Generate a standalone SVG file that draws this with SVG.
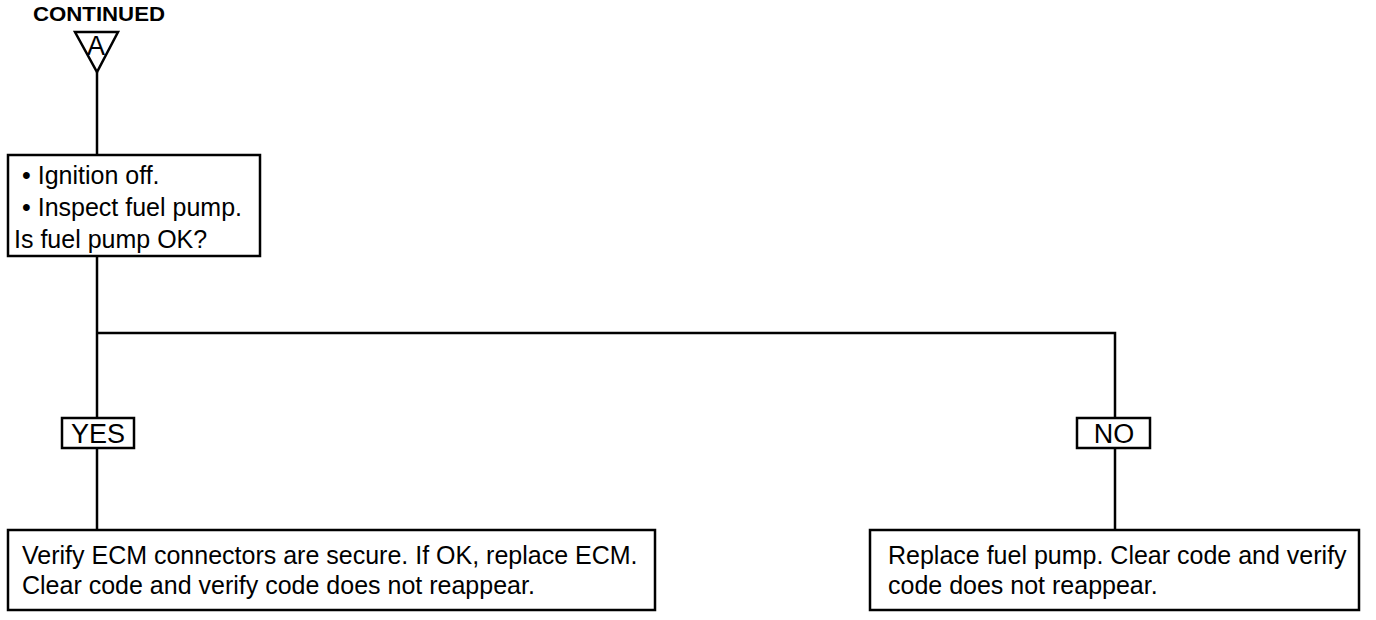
<svg xmlns="http://www.w3.org/2000/svg" width="1376" height="620" viewBox="0 0 1376 620">
<style>
.box{fill:#fff;stroke:#000;stroke-width:2.5}
.ln{fill:none;stroke:#000;stroke-width:2.5}
.t{font-family:"Liberation Sans",Arial,sans-serif;font-size:25px;fill:#000}
.lab{font-family:"Liberation Sans",Arial,sans-serif;font-size:27px;fill:#000}
.b{font-family:"Liberation Sans",Arial,sans-serif;font-size:20px;font-weight:bold;fill:#000}
</style>
<rect width="1376" height="620" fill="#fff"/>
<g id="connectors">
<line class="ln" x1="97" y1="72" x2="97" y2="155"/>
<line class="ln" x1="97" y1="256" x2="97" y2="418"/>
<polyline class="ln" points="97,333 1115,333 1115,418"/>
<line class="ln" x1="97" y1="448" x2="97" y2="530"/>
<line class="ln" x1="1115" y1="448" x2="1115" y2="530"/>
</g>
<g id="continued">
<text class="b" x="33" y="21" textLength="132" lengthAdjust="spacingAndGlyphs">CONTINUED</text>
<polygon class="box" points="75,32 118,32 97,72"/>
<text class="lab" x="96" y="55" text-anchor="middle" font-size="21">A</text>
</g>
<g id="inspect">
<rect class="box" x="8" y="155" width="252" height="101"/>
<text class="t" x="22" y="184">• Ignition off.</text>
<text class="t" x="22" y="216">• Inspect fuel pump.</text>
<text class="t" x="14" y="248">Is fuel pump OK?</text>
</g>
<g id="yes">
<rect class="box" x="62" y="418" width="72" height="30"/>
<text class="lab" x="98" y="443" text-anchor="middle">YES</text>
</g>
<g id="no">
<rect class="box" x="1077" y="418" width="73" height="30"/>
<text class="lab" x="1114" y="443" text-anchor="middle">NO</text>
</g>
<g id="replace-ecm">
<rect class="box" x="8" y="530" width="647" height="80"/>
<text class="t" x="22" y="564">Verify ECM connectors are secure. If OK, replace ECM.</text>
<text class="t" x="22" y="594">Clear code and verify code does not reappear.</text>
</g>
<g id="replace-pump">
<rect class="box" x="870" y="530" width="489" height="80"/>
<text class="t" x="888" y="564">Replace fuel pump. Clear code and verify</text>
<text class="t" x="888" y="594">code does not reappear.</text>
</g>
</svg>
